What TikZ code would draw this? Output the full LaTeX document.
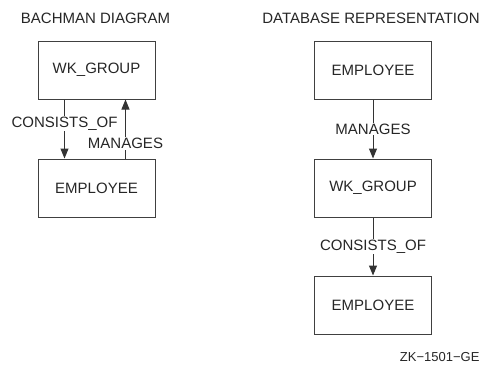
\documentclass[tikz,border=0pt]{standalone}
\usepackage{fontspec}
\setmainfont{Liberation Sans}
\usetikzlibrary{positioning,arrows.meta}

\begin{document}
\begin{tikzpicture}[
    x=1pt,y=1pt,
    every node/.style={
      font=\fontsize{15}{18}\selectfont,text=black!85
    },
    recordbox/.style={
      draw=black!75,line width=1pt,
      minimum width=117pt,minimum height=58pt,inner sep=0pt
    },
    setarrow/.style={
      draw=black!80,line width=1pt,
      -{Triangle[length=10pt,width=8pt]}
    },
    setlabel/.style={
      fill=white,inner sep=1pt
    }]
      \useasboundingbox (0,0) rectangle (484,-365);

      % bachman diagram
      \node (bachtitle) at (95.5,-18) {BACHMAN DIAGRAM};
      \node[recordbox] (bachgroup) at (96.5,-70) {WK\_GROUP};
      \node[recordbox,below=59pt of bachgroup] (bachemp) {EMPLOYEE};

      \draw[setarrow] ([xshift=-32pt]bachgroup.south) -- ([xshift=-32pt]bachemp.north)
        node[setlabel,pos=0.41] {CONSISTS\_OF};
      \draw[setarrow] ([xshift=29pt]bachemp.north) -- ([xshift=29pt]bachgroup.south)
        node[setlabel,pos=0.25] {MANAGES};

      % database representation
      \node (dbtitle) at (371,-18) {DATABASE REPRESENTATION};
      \node[recordbox] (dbemp) at (373,-70) {EMPLOYEE};
      \node[recordbox,below=59pt of dbemp] (dbgroup) {WK\_GROUP};
      \node[recordbox,below=58pt of dbgroup] (dbmember) {EMPLOYEE};

      \draw[setarrow] (dbemp) -- (dbgroup)
        node[setlabel,midway] {MANAGES};
      \draw[setarrow] (dbgroup) -- (dbmember)
        node[setlabel,midway] {CONSISTS\_OF};

      \node[anchor=east,font=\fontsize{13}{15}\selectfont] (figid) at (483,-357) {ZK\char"2212 1501\char"2212 GE};
  \end{tikzpicture}
\end{document}
